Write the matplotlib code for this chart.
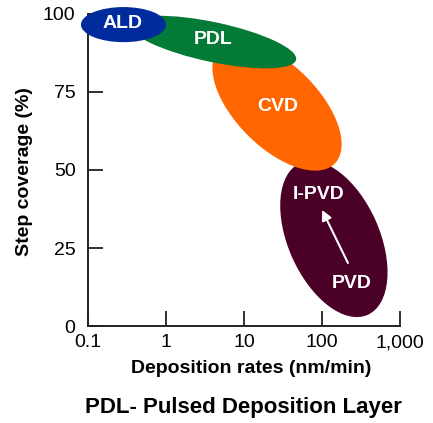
import numpy as np
import matplotlib
matplotlib.use('Agg')
import matplotlib.pyplot as plt
from matplotlib.patches import Ellipse
from matplotlib import transforms

plt.rcParams['font.family'] = ['Liberation Sans', 'DejaVu Sans']

# ==========================================
# 数据: 各工艺区域 (沉积速率 nm/min, 台阶覆盖率 %)
# ==========================================
names = ['PVD', 'CVD', 'PDL', 'ALD']
rate_center = [142.0, 26.5, 4.0, 0.285]
cover_center = [27.9, 70.5, 91.0, 96.6]
span_w = [2.13, 2.09, 2.18, 1.09]   # 长轴, 以十倍程 (decade) 计
span_h = [1.17, 1.06, 0.51, 0.45]   # 短轴
tilt = [-66, -45, -12, 0]
colors = ['#4a0027', '#ff6600', '#037a35', '#002b9c']

label_text = ['I-PVD', 'PVD', 'CVD', 'PDL', 'ALD']
label_rate = [91.5, 242.0, 27.3, 4.0, 0.281]
label_cover = [42.0, 13.5, 70.5, 91.7, 96.8]

arrow_from = (215.0, 20.2)
arrow_to = (100.0, 37.2)

x_ticks = [0.1, 1, 10, 100, 1000]
x_ticklabels = ['0.1', '1', '10', '100', '1,000']
y_ticks = [0, 25, 50, 75, 100]

# ==========================================
# 绘图
# ==========================================
fig = plt.figure(figsize=(4.33, 4.23), dpi=100)
ax = fig.add_axes([88 / 433, 1 - 326 / 423, 312 / 433, 312 / 423])
ax.set_xscale('log')
ax.set_xlim(0.1, 1000)
ax.set_ylim(0, 100)

# 每个十倍程在屏幕上的像素 (x 与 y 方向一致: 1 decade = 25 %)
ppd = ax.bbox.width / 4.0

for i in range(len(names)):
    tr = transforms.Affine2D().scale(ppd) + transforms.ScaledTranslation(
        rate_center[i], cover_center[i], ax.transData)
    e = Ellipse((0, 0), span_w[i], span_h[i], angle=tilt[i],
                facecolor=colors[i], edgecolor='none', transform=tr,
                clip_on=False, zorder=3 + i)
    ax.add_patch(e)

for t, r, c in zip(label_text, label_rate, label_cover):
    ax.text(r, c, t, color='white', fontsize=14, fontweight='bold',
            ha='center', va='center', zorder=10)

ax.annotate('', xy=arrow_to, xytext=arrow_from,
            arrowprops=dict(arrowstyle='-|>', color='white', lw=1.5,
                            mutation_scale=15, shrinkA=0, shrinkB=0),
            zorder=10)

for s in ['top', 'right']:
    ax.spines[s].set_visible(False)
for s in ['left', 'bottom']:
    ax.spines[s].set_linewidth(1.4)
    ax.spines[s].set_color('#222222')

ax.set_xticks(x_ticks)
ax.set_xticklabels(x_ticklabels)
ax.xaxis.set_minor_locator(matplotlib.ticker.NullLocator())
ax.set_yticks(y_ticks)
ax.tick_params(direction='in', length=11, width=1.3, color='#222222',
               labelsize=14)
ax.tick_params(axis='x', pad=6)
ax.tick_params(axis='y', pad=9)

fig.text(251 / 433, 1 - 368 / 423, 'Deposition rates (nm/min)', fontsize=14,
         fontweight='bold', ha='center', va='center')
fig.text(25 / 433, 1 - 172 / 423, 'Step coverage (%)', fontsize=14,
         fontweight='bold', ha='center', va='center', rotation=90)
fig.text(243 / 433, 1 - 407 / 423, 'PDL- Pulsed Deposition Layer', fontsize=16,
         fontweight='bold', ha='center', va='center')

fig.savefig('out.png', dpi=100)
